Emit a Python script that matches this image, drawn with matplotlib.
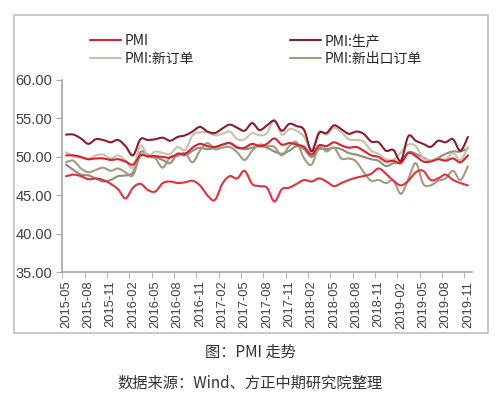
import matplotlib
matplotlib.use("Agg")
import matplotlib.pyplot as plt
import numpy as np
from matplotlib.patches import Rectangle

# months 2015-05 .. 2019-11
months = [f"{y}-{m:02d}" for y in range(2015, 2020) for m in range(1, 13)]
months = months[months.index("2015-05"):months.index("2019-11") + 1]

pmi = [50.2, 50.2, 50.0, 49.7, 49.8, 49.8, 49.6, 49.7,
       49.4, 49.0, 50.2, 50.1, 50.1, 50.0, 49.9, 50.4, 50.4, 51.2, 51.7, 51.4,
       51.3, 51.6, 51.8, 51.2, 51.2, 51.7, 51.4, 51.7, 52.4, 51.6, 51.8, 51.6,
       51.3, 50.3, 51.5, 51.4, 51.9, 51.5, 51.2, 51.3, 50.8, 50.2, 50.0, 49.4,
       49.5, 49.2, 50.5, 50.1, 49.4, 49.4, 49.7, 49.5, 49.8, 49.3, 50.2]
production = [52.9, 52.9, 52.4, 51.7, 52.3, 52.2, 51.9, 52.2,
              51.4, 50.2, 52.3, 52.2, 52.3, 52.5, 52.1, 52.6, 52.8, 53.3, 53.9, 53.3,
              53.1, 53.7, 54.2, 53.8, 53.4, 54.4, 53.5, 54.1, 54.7, 53.4, 54.3, 54.0,
              53.5, 50.7, 53.1, 53.1, 54.1, 53.6, 53.0, 53.3, 53.0, 52.0, 51.9, 50.8,
              50.9, 49.5, 52.7, 52.1, 51.7, 51.3, 52.1, 51.9, 52.3, 50.8, 52.6]
new_orders = [50.6, 50.1, 49.9, 49.7, 50.2, 50.3, 49.8, 50.2,
              49.5, 48.6, 51.4, 50.2, 50.7, 50.5, 50.4, 51.3, 50.9, 52.8, 53.2, 53.2,
              52.8, 53.0, 53.3, 52.3, 52.3, 53.1, 52.8, 53.1, 54.8, 52.9, 53.6, 53.4,
              52.6, 51.0, 53.3, 52.9, 53.8, 53.2, 52.3, 52.2, 52.0, 50.8, 50.4, 49.7,
              49.6, 50.6, 51.6, 51.4, 49.8, 49.6, 49.8, 49.7, 50.5, 49.6, 51.3]
export_orders = [49.3, 49.5, 48.5, 48.0, 48.3, 48.6, 48.2, 48.5,
                 48.0, 47.6, 50.2, 50.0, 49.8, 48.6, 50.0, 50.1, 50.5, 49.3, 50.8, 51.8,
                 51.0, 51.2, 51.3, 50.6, 49.6, 50.8, 51.6, 51.4, 51.3, 50.2, 51.4, 51.9,
                 49.8, 49.0, 51.3, 50.7, 51.2, 49.8, 49.8, 49.4, 48.0, 46.9, 47.0, 46.6,
                 46.9, 45.2, 47.1, 49.2, 46.5, 46.3, 46.9, 47.2, 48.2, 47.0, 48.8]
# two further series drawn in the chart without legend entries
extra_gray = [49.0, 48.3, 47.7, 47.6, 47.2, 46.8, 47.0, 47.5,
              47.6, 48.0, 50.6, 50.3, 50.0, 49.6, 49.2, 50.4, 50.2, 50.8, 51.2, 51.0,
              51.2, 51.6, 51.8, 51.3, 51.0, 51.2, 51.4, 51.2, 50.7, 50.4, 50.8, 51.4,
              51.0, 50.0, 51.0, 51.0, 51.2, 51.0, 50.5, 50.3, 50.0, 49.7, 49.5, 48.8,
              49.2, 49.4, 50.6, 50.4, 49.9, 49.5, 49.9, 50.4, 50.7, 50.7, 51.1]
extra_red = [47.5, 47.7, 47.5, 47.1, 47.2, 47.0, 46.5, 45.8,
             44.6, 46.0, 46.5, 45.7, 45.5, 46.6, 46.8, 46.6, 46.7, 46.9, 46.3, 45.0,
             44.4, 46.5, 47.5, 47.2, 48.2, 46.5, 46.2, 46.0, 44.2, 45.8, 46.0, 46.5,
             47.0, 46.8, 47.2, 46.8, 46.2, 46.6, 47.0, 47.3, 47.5, 47.8, 48.5, 47.8,
             46.9, 46.3, 46.9, 48.0, 48.2, 47.0, 47.2, 47.7, 47.0, 46.6, 46.3]


def smooth(x, y, n=10):
    # Catmull-Rom curve through the points, like Excel's smoothed line
    P = np.column_stack([x, y]).astype(float)
    P = np.vstack([P[0], P, P[-1]])
    t = np.linspace(0, 1, n, endpoint=False)[:, None]
    out = []
    for k in range(1, len(P) - 2):
        p0, p1, p2, p3 = P[k - 1], P[k], P[k + 1], P[k + 2]
        out.append(0.5 * (2 * p1 + (-p0 + p2) * t
                          + (2 * p0 - 5 * p1 + 4 * p2 - p3) * t ** 2
                          + (-p0 + 3 * p1 - 3 * p2 + p3) * t ** 3))
    out.append(P[-2][None, :])
    out = np.vstack(out)
    return out[:, 0], out[:, 1]


fig = plt.figure(figsize=(5, 3.95), dpi=100)
ax = fig.add_axes([0.1246, 0.3106, 0.8186, 0.4869])

x = np.arange(len(months))
series = [
    (extra_gray, "#8E8C7A", None),
    (export_orders, "#A39A82", "PMI:新出口订单"),
    (new_orders, "#C9C0AE", "PMI:新订单"),
    (extra_red, "#E0323C", None),
    (pmi, "#D9222F", "PMI"),
    (production, "#8B1D2C", "PMI:生产"),
]
handles = {}
for vals, col, lab in series:
    sx, sy = smooth(x, vals)
    ln, = ax.plot(sx, sy, color=col, lw=1.5, solid_capstyle="round")
    if lab:
        handles[lab] = ln

ax.set_xlim(-0.5, len(months) - 0.5)
ax.set_ylim(35, 60)
ax.set_yticks(np.arange(35, 61, 5))
ax.set_yticklabels([f"{v:.2f}" for v in np.arange(35, 61, 5)],
                   fontsize=10.5, color="#404040", family="Liberation Sans")
ax.set_xticks(x[::3])
ax.set_xticklabels(months[::3], rotation=90, fontsize=9.3,
                   color="#404040", family="Liberation Sans")
ax.set_xticks(np.arange(-0.5, len(months), 3), minor=True)
ax.tick_params(axis="x", which="major", length=0, pad=6)
ax.tick_params(axis="x", which="minor", length=4, color="#A6A6A6")
ax.tick_params(axis="y", length=4, color="#A6A6A6", pad=3)
for s in ["top", "right"]:
    ax.spines[s].set_visible(False)
for s in ["left", "bottom"]:
    ax.spines[s].set_color("#A6A6A6")
    ax.spines[s].set_linewidth(1.2)

order = ["PMI", "PMI:新订单", "PMI:生产", "PMI:新出口订单"]
fig.legend([handles[k] for k in order], order, ncol=2, loc="upper left",
           bbox_to_anchor=(0.155, 0.945), frameon=False, handlelength=2.2,
           handletextpad=0.3, columnspacing=6.9, labelspacing=0.25,
           prop={"family": "Noto Sans CJK SC", "size": 10}, labelcolor="#262626")

fig.patches.append(Rectangle((14 / 500, 1 - 333 / 395), 474 / 500, 318 / 395,
                             transform=fig.transFigure, fill=False,
                             edgecolor="#BFBFBF", lw=1.2))

fig.text(0.5, 1 - 352.5 / 395, "图：PMI 走势", ha="center", va="center",
         fontsize=11, color="#333333", family="Noto Sans CJK SC")
fig.text(0.5, 1 - 383 / 395, "数据来源：Wind、方正中期研究院整理", ha="center",
         va="center", fontsize=11, color="#333333", family="Noto Sans CJK SC")

fig.savefig("out.png", dpi=100)
